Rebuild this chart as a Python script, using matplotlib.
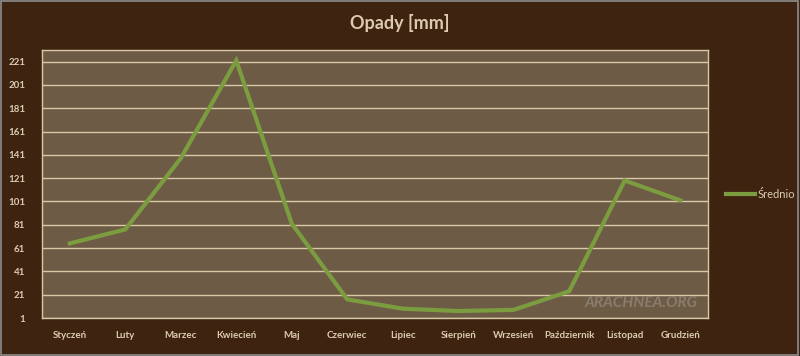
import matplotlib
matplotlib.use('Agg')
import matplotlib.pyplot as plt
import numpy as np

# ── data ──────────────────────────────────────────────
months = ['Styczeń', 'Luty', 'Marzec', 'Kwiecień', 'Maj', 'Czerwiec', 'Lipiec',
          'Sierpień', 'Wrzesień', 'Październik', 'Listopad', 'Grudzień']
srednio = [65, 77, 138, 222, 82, 17, 9, 7, 8, 24, 119, 102]
yticks = list(range(1, 222, 20))

# ── colours ───────────────────────────────────────────
BG = '#3e2410'
PLOT_BG = '#6e5b45'
GRID = '#d8c8a6'
LINE = '#7b9c3f'
TEXT = '#dccbb0'

plt.rcParams['font.family'] = ['Lato', 'DejaVu Sans']

fig = plt.figure(figsize=(8, 3.56), dpi=100, facecolor=BG)
ax = fig.add_axes([0.0525, 0.1067, 0.8325, 0.7529])
ax.set_facecolor(PLOT_BG)

x = np.arange(len(months))
ax.plot(x, srednio, color=LINE, lw=3, solid_joinstyle='miter', label='Średnio', zorder=3)

ax.set_xlim(-0.5, len(months) - 0.5)
ax.set_ylim(1, 231)
ax.set_yticks(yticks)
ax.set_xticks(x)
ax.set_xticklabels(months)
ax.yaxis.grid(True, color=GRID, lw=1)
ax.set_axisbelow(True)
ax.tick_params(length=0, colors=TEXT, labelsize=7)
ax.tick_params(axis='x', pad=9)
ax.tick_params(axis='y', pad=12)
for lab in ax.get_xticklabels() + ax.get_yticklabels():
    lab.set_fontweight('bold')
for s in ax.spines.values():
    s.set_edgecolor(GRID)
    s.set_linewidth(1)

fig.text(0.5, 0.935, 'Opady [mm]', ha='center', va='center', color=TEXT,
         fontsize=13, fontweight='bold')

leg = fig.legend(loc='center left', bbox_to_anchor=(0.895, 0.455), frameon=False,
                 handlelength=2.6, handletextpad=0.2, fontsize=8)
for t in leg.get_texts():
    t.set_color(TEXT)

# watermark
ax.text(0.985, 0.03, 'ARACHNEA.ORG', transform=ax.transAxes, ha='right', va='bottom',
        fontsize=11, style='italic', fontweight='bold', color='#8a7c6c', zorder=4)

# outer border
fig.patches.append(plt.Rectangle((0.001, 0.002), 0.997, 0.995, transform=fig.transFigure,
                                 fill=False, edgecolor='#8d8d8d', lw=1.2))

plt.savefig('out.png', dpi=100, facecolor=BG)
